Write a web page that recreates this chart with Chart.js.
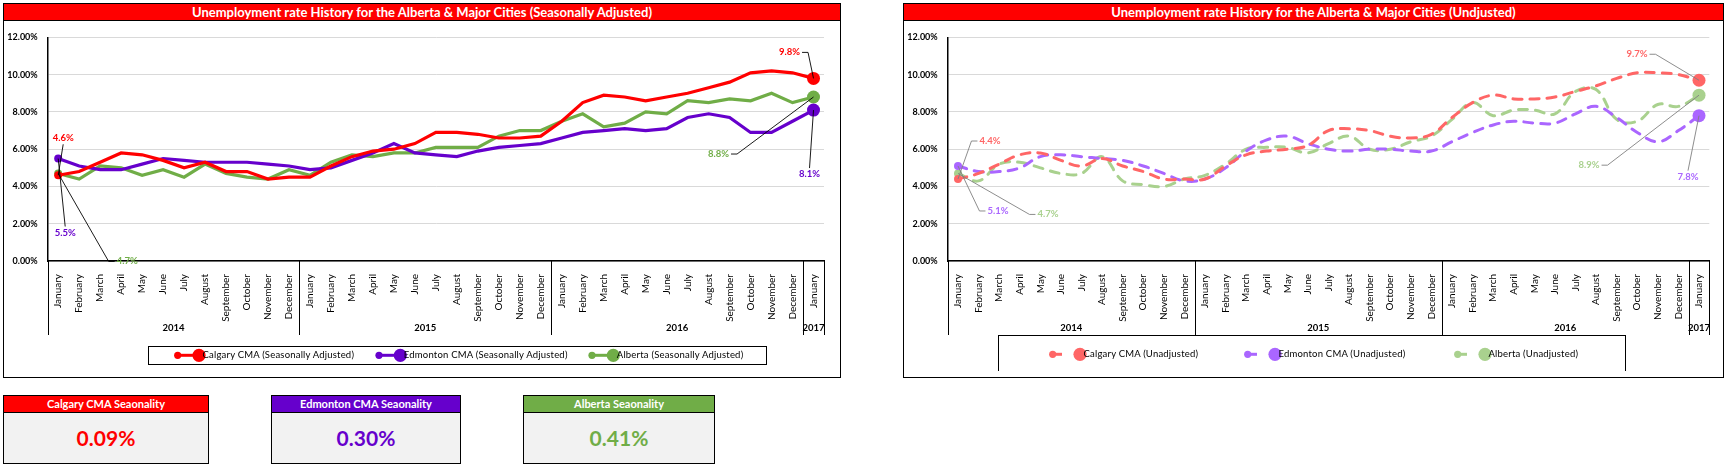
<!DOCTYPE html>
<html>
<head>
<meta charset="utf-8">
<script src="https://cdn.jsdelivr.net/npm/chart.js@4.4.1/dist/chart.umd.min.js"></script>
<style>
  body { margin: 0; background: #fff; font-family: Lato, "Open Sans", sans-serif; }
  #page { position: relative; width: 1728px; height: 467px; overflow: hidden; }
  .panel { position: absolute; border: 1.5px solid #000; box-sizing: border-box; }
  .ptitle { position: absolute; left: 0; right: 0; top: 0; height: 16px; line-height: 16px;
            background: #FF0000; color: #fff; font-weight: bold; font-size: 13px; text-align: center;
            border-bottom: 1px solid #000; white-space: nowrap; }
  .chartbox { position: absolute; }
  .legend { position: absolute; border: 1px solid #000; box-sizing: border-box; }
  .legend svg { position: absolute; left: 0; top: 0; overflow: visible; }
  .legend span { position: absolute; font-size: 9.5px; color: #000; white-space: nowrap; line-height: 12px; letter-spacing: 0.2px; }
  .kpi { position: absolute; border: 1.5px solid #000; box-sizing: border-box; background: #F2F2F2; }
  .kpi .head { height: 16px; line-height: 16px; color: #fff; font-weight: bold; font-size: 11px;
               text-align: center; border-bottom: 1px solid #000; white-space: nowrap; }
  .kpi .val { text-align: center; font-weight: bold; font-size: 21px; line-height: 50px; }
</style>
</head>
<body>
<div id="page">
  <div class="panel" style="left:3px;top:3px;width:838px;height:375px;">
    <div class="ptitle">Unemployment rate History for the Alberta &amp; Major Cities (Seasonally Adjusted)</div>
  </div>
  <div class="panel" style="left:903px;top:3px;width:821px;height:375px;">
    <div class="ptitle">Unemployment rate History for the Alberta &amp; Major Cities (Undjusted)</div>
  </div>
  <div class="chartbox" style="left:4px;top:22px;width:836px;height:355px;"><canvas id="chartSA"></canvas></div>
  <div class="chartbox" style="left:904px;top:22px;width:819px;height:355px;"><canvas id="chartNSA"></canvas></div>
  <div class="legend" id="legendSA" style="left:148px;top:346px;width:619px;height:19px;"></div>
  <div class="legend" id="legendNSA" style="left:998px;top:335px;width:628px;height:36px;border-bottom:none;"></div>
  <div id="kpis"></div>
</div>
<script>
// ---- data ----
const months = ['January','February','March','April','May','June','July','August','September','October','November','December',
  'January','February','March','April','May','June','July','August','September','October','November','December',
  'January','February','March','April','May','June','July','August','September','October','November','December',
  'January'];
const years = ['2014', '2015', '2016', '2017'];
const yearSpans = [12, 12, 12, 1];

const calgarySA   = [4.6,4.8,5.3,5.8,5.7,5.4,5.0,5.3,4.8,4.8,4.4,4.5, 4.5,5.1,5.6,5.9,6.0,6.3,6.9,6.9,6.8,6.6,6.6,6.7, 7.5,8.5,8.9,8.8,8.6,8.8,9.0,9.3,9.6,10.1,10.2,10.1, 9.8];
const edmontonSA  = [5.5,5.1,4.9,4.9,5.2,5.5,5.4,5.3,5.3,5.3,5.2,5.1, 4.9,5.0,5.4,5.8,6.3,5.8,5.7,5.6,5.9,6.1,6.2,6.3, 6.6,6.9,7.0,7.1,7.0,7.1,7.7,7.9,7.7,6.9,6.9,7.5, 8.1];
const albertaSA   = [4.7,4.4,5.1,5.0,4.6,4.9,4.5,5.2,4.7,4.5,4.4,4.9, 4.6,5.3,5.7,5.6,5.8,5.8,6.1,6.1,6.1,6.7,7.0,7.0, 7.5,7.9,7.2,7.4,8.0,7.9,8.6,8.5,8.7,8.6,9.0,8.5, 8.8];

const calgaryNSA  = [4.4,4.7,5.2,5.7,5.8,5.4,5.1,5.5,5.1,4.8,4.4,4.4, 4.4,5.1,5.7,5.9,6.0,6.2,7.0,7.1,7.0,6.7,6.6,6.8, 7.7,8.5,8.9,8.7,8.7,8.8,9.1,9.4,9.8,10.1,10.1,10.0, 9.7];
const edmontonNSA = [5.1,4.8,4.8,5.0,5.6,5.7,5.6,5.5,5.4,5.1,4.7,4.3, 4.4,5.0,5.9,6.5,6.7,6.3,6.0,5.9,6.0,6.0,5.9,5.9, 6.4,6.9,7.3,7.5,7.4,7.4,7.9,8.3,7.7,6.9,6.4,7.0, 7.8];
const albertaNSA  = [4.7,4.3,5.2,5.3,5.0,4.7,4.7,5.6,4.3,4.1,4.0,4.4, 4.6,5.2,6.0,6.1,6.1,5.8,6.3,6.7,6.0,6.0,6.4,6.7, 7.6,8.5,7.8,8.1,8.1,7.9,9.1,9.2,7.6,7.5,8.4,8.3, 8.9];

const seasonalityNames  = ['Calgary CMA Seaonality', 'Edmonton CMA Seaonality', 'Alberta Seaonality'];
const seasonalityValues = [0.09, 0.30, 0.41];

const FONT = 'Lato';
const COLORS_SA  = ['#FF0000', '#6600CC', '#70AD47'];
const COLORS_NSA = ['#FF6666', '#AA66FF', '#A9D18E'];

// draws the year row under the month labels
const yearAxis = {
  id: 'yearAxis',
  afterDraw(chart, args, opts) {
    const { ctx, chartArea: a, scales: { x } } = chart;
    const half = (x.getPixelForValue(1) - x.getPixelForValue(0)) / 2;
    ctx.save();
    ctx.strokeStyle = '#000';
    ctx.lineWidth = 1;
    ctx.fillStyle = '#000';
    ctx.font = 'bold 9.5px ' + FONT;
    ctx.textAlign = 'center';
    ctx.textBaseline = 'middle';
    const vline = xp => {
      const xx = Math.round(xp) + 0.5;
      ctx.beginPath(); ctx.moveTo(xx, a.bottom); ctx.lineTo(xx, opts.bottom); ctx.stroke();
    };
    let start = 0;
    vline(x.getPixelForValue(0) - half);
    opts.years.forEach((yr, k) => {
      const end = start + opts.spans[k] - 1;
      const l = x.getPixelForValue(start) - half;
      const r = x.getPixelForValue(end) + half;
      vline(r);
      ctx.fillText(yr, (l + r) / 2, opts.labelY);
      start = end + 1;
    });
    ctx.restore();
  }
};

// value labels with leader lines on first / last points
const callouts = {
  id: 'callouts',
  afterDatasetsDraw(chart, args, opts) {
    const ctx = chart.ctx;
    ctx.save();
    ctx.font = 'bold 9.5px ' + FONT;
    ctx.textAlign = 'center';
    ctx.textBaseline = 'middle';
    ctx.strokeStyle = opts.lineColor;
    ctx.lineWidth = 0.9;
    opts.items.forEach(it => {
      const ds = chart.data.datasets[it.ds];
      const pt = chart.getDatasetMeta(it.ds).data[it.idx];
      const text = ds.data[it.idx].toFixed(1) + '%';
      const lx = pt.x + it.dx, ly = pt.y + it.dy;
      const w = ctx.measureText(text).width, h = 10;
      let sx, sy, ex = null;
      if (it.side === 'left')       { sx = lx - w / 2 - 2; sy = ly; ex = sx - 6; }
      else if (it.side === 'right') { sx = lx + w / 2 + 2; sy = ly; ex = sx + 6; }
      else if (it.side === 'top')   { sx = lx; sy = ly - h / 2 - 1; }
      else                          { sx = lx; sy = ly + h / 2 + 1; }
      ctx.beginPath();
      ctx.moveTo(sx, sy);
      if (ex !== null) ctx.lineTo(ex, sy);
      ctx.lineTo(pt.x, pt.y);
      ctx.stroke();
      ctx.fillStyle = ds.borderColor;
      ctx.fillText(text, lx, ly);
    });
    ctx.restore();
  }
};

function endRadius(ctx) {
  const n = ctx.dataset.data.length;
  if (ctx.dataIndex === 0) return 4;
  if (ctx.dataIndex === n - 1) return 6.5;
  return 0;
}

function makeChart(id, series, names, colors, dashed, rightPad, calloutItems, leaderColor) {
  const datasets = series.map((s, i) => ({
    label: names[i],
    data: s,
    borderColor: colors[i],
    backgroundColor: colors[i],
    borderWidth: dashed ? 3 : 3.2,
    borderDash: dashed ? [9, 8] : [],
    borderCapStyle: dashed ? 'round' : 'butt',
    tension: dashed ? 0.4 : 0,
    pointRadius: endRadius,
    pointBorderWidth: 0,
    pointBackgroundColor: colors[i],
    pointHoverRadius: 0
  }));
  return new Chart(document.getElementById(id), {
    type: 'line',
    data: { labels: months, datasets },
    plugins: [yearAxis, callouts],
    options: {
      responsive: true,
      maintainAspectRatio: false,
      animation: false,
      layout: { padding: { top: 15.3, right: rightPad, left: 0, bottom: 0 } },
      plugins: {
        legend: { display: false },
        tooltip: { enabled: false },
        yearAxis: { years, spans: yearSpans, labelY: 305.7, bottom: 313 },
        callouts: { items: calloutItems, lineColor: leaderColor }
      },
      scales: {
        x: {
          offset: true,
          grid: { display: false },
          border: { display: true, color: '#000', width: 1.5 },
          ticks: { autoSkip: false, maxRotation: 90, minRotation: 90, padding: 5,
                   color: '#000', font: { family: FONT, size: 10 } },
          afterFit: s => { s.height = 116; }
        },
        y: {
          min: 0, max: 12,
          grid: { color: '#D9D9D9', drawTicks: false },
          border: { display: true, color: '#000', width: 1.5 },
          ticks: { stepSize: 2, padding: 10, color: '#000',
                   font: { family: FONT, size: 9, weight: 'bold' },
                   callback: v => v.toFixed(2) + '%' },
          afterFit: s => { s.width = 43.7; }
        }
      }
    }
  });
}

const namesSA  = ['Calgary CMA (Seasonally Adjusted)', 'Edmonton CMA (Seasonally Adjusted)', 'Alberta (Seasonally Adjusted)'];
const namesNSA = ['Calgary CMA (Unadjusted)', 'Edmonton CMA (Unadjusted)', 'Alberta (Unadjusted)'];

makeChart('chartSA', [calgarySA, edmontonSA, albertaSA], namesSA, COLORS_SA, false, 16, [
  { ds: 0, idx: 0,  dx: 5,   dy: -37, side: 'bottom' },
  { ds: 1, idx: 0,  dx: 7,   dy: 74,  side: 'top' },
  { ds: 2, idx: 0,  dx: 69,  dy: 88,  side: 'left' },
  { ds: 0, idx: 36, dx: -24, dy: -26, side: 'right' },
  { ds: 2, idx: 36, dx: -95, dy: 57,  side: 'right' },
  { ds: 1, idx: 36, dx: -4,  dy: 64,  side: 'top' }
], '#000');

makeChart('chartNSA', [calgaryNSA, edmontonNSA, albertaNSA], namesNSA, COLORS_NSA, true, 13.7, [
  { ds: 0, idx: 0,  dx: 32,   dy: -38, side: 'left' },
  { ds: 1, idx: 0,  dx: 40,   dy: 45,  side: 'left' },
  { ds: 2, idx: 0,  dx: 90,   dy: 41,  side: 'left' },
  { ds: 0, idx: 36, dx: -62,  dy: -26, side: 'right' },
  { ds: 2, idx: 36, dx: -110, dy: 70,  side: 'right' },
  { ds: 1, idx: 36, dx: -11,  dy: 61,  side: 'top' }
], '#808080');

// legends
function buildLegend(el, names, colors, xs, cy, dashed) {
  const ns = 'http://www.w3.org/2000/svg';
  const svg = document.createElementNS(ns, 'svg');
  svg.setAttribute('width', el.clientWidth);
  svg.setAttribute('height', 40);
  el.appendChild(svg);
  const mk = (tag, attrs) => {
    const e = document.createElementNS(ns, tag);
    for (const k in attrs) e.setAttribute(k, attrs[k]);
    svg.appendChild(e);
  };
  names.forEach((name, i) => {
    const x0 = xs[i];
    const big = dashed ? x0 + 27.3 : x0 + 21.3;
    const stubEnd = dashed ? x0 + 9.3 : big;
    mk('line', { x1: x0, y1: cy, x2: stubEnd, y2: cy, stroke: colors[i], 'stroke-width': 3 });
    mk('circle', { cx: x0, cy, r: 3.6, fill: colors[i] });
    mk('circle', { cx: big, cy, r: 6.6, fill: colors[i] });
    const t = document.createElement('span');
    t.textContent = name;
    t.style.left = (big + 3.5) + 'px';
    t.style.top = (cy - 6) + 'px';
    el.appendChild(t);
  });
}
buildLegend(document.getElementById('legendSA'), namesSA, COLORS_SA, [28.7, 230, 443], 8.3, false);
buildLegend(document.getElementById('legendNSA'), namesNSA, COLORS_NSA, [53.7, 248.7, 458.7], 18.3, true);

// seasonality boxes
const kpiBoxes = [{ left: 3.3, width: 205.4 }, { left: 271.3, width: 189.4 }, { left: 523.3, width: 191.4 }];
const kpiWrap = document.getElementById('kpis');
seasonalityNames.forEach((name, i) => {
  const box = document.createElement('div');
  box.className = 'kpi';
  box.style.left = kpiBoxes[i].left + 'px';
  box.style.top = '395px';
  box.style.width = kpiBoxes[i].width + 'px';
  box.style.height = '69px';
  const head = document.createElement('div');
  head.className = 'head';
  head.style.background = COLORS_SA[i];
  head.textContent = name;
  const val = document.createElement('div');
  val.className = 'val';
  val.style.color = COLORS_SA[i];
  val.textContent = seasonalityValues[i].toFixed(2) + '%';
  box.appendChild(head);
  box.appendChild(val);
  kpiWrap.appendChild(box);
});
</script>
</body>
</html>
